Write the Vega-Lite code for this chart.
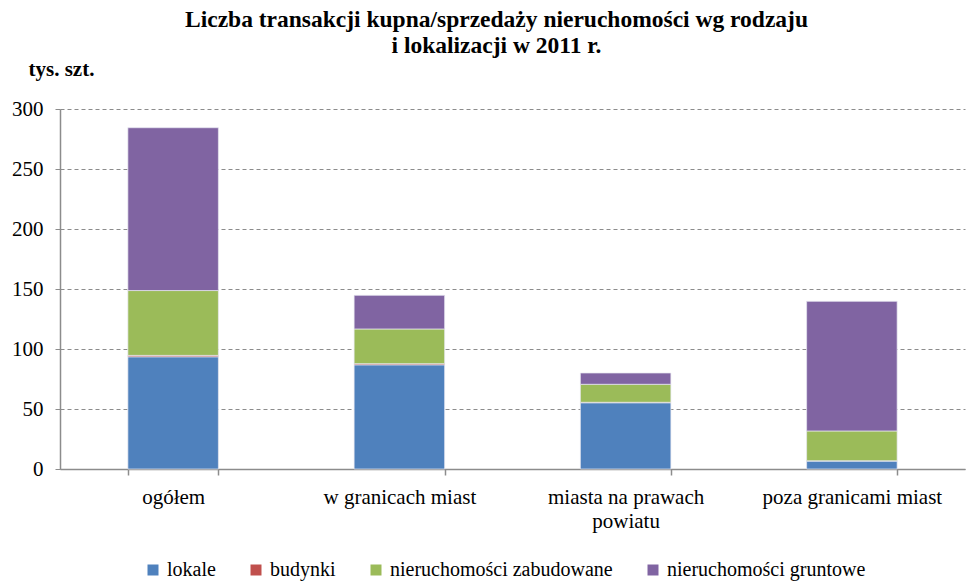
{
  "$schema": "https://vega.github.io/schema/vega-lite/v6.json",
  "width": 905,
  "height": 360,
  "autosize": "none",
  "padding": {"left": 60, "top": 109, "right": 3, "bottom": 116},
  "background": "white",
  "title": {
    "text": ["Liczba transakcji kupna/sprzedaży nieruchomości wg rodzaju", "i lokalizacji w 2011 r."],
    "font": "Liberation Serif",
    "fontSize": 23.5,
    "fontWeight": "bold",
    "color": "black",
    "anchor": "middle",
    "dx": -16,
    "lineHeight": 26,
    "offset": 1
  },
  "data": {
    "values": [
      {"kat": "ogółem", "rodzaj": "lokale", "k": 1, "v": 93.5},
      {"kat": "ogółem", "rodzaj": "budynki", "k": 2, "v": 1.2},
      {"kat": "ogółem", "rodzaj": "nieruchomości zabudowane", "k": 3, "v": 54.0},
      {"kat": "ogółem", "rodzaj": "nieruchomości gruntowe", "k": 4, "v": 135.7},
      {"kat": "w granicach miast", "rodzaj": "lokale", "k": 1, "v": 86.8},
      {"kat": "w granicach miast", "rodzaj": "budynki", "k": 2, "v": 1.0},
      {"kat": "w granicach miast", "rodzaj": "nieruchomości zabudowane", "k": 3, "v": 28.9},
      {"kat": "w granicach miast", "rodzaj": "nieruchomości gruntowe", "k": 4, "v": 28.0},
      {"kat": "miasta na prawach powiatu", "rodzaj": "lokale", "k": 1, "v": 55.2},
      {"kat": "miasta na prawach powiatu", "rodzaj": "budynki", "k": 2, "v": 0.4},
      {"kat": "miasta na prawach powiatu", "rodzaj": "nieruchomości zabudowane", "k": 3, "v": 15.0},
      {"kat": "miasta na prawach powiatu", "rodzaj": "nieruchomości gruntowe", "k": 4, "v": 9.4},
      {"kat": "poza granicami miast", "rodzaj": "lokale", "k": 1, "v": 6.6},
      {"kat": "poza granicami miast", "rodzaj": "budynki", "k": 2, "v": 0.3},
      {"kat": "poza granicami miast", "rodzaj": "nieruchomości zabudowane", "k": 3, "v": 24.8},
      {"kat": "poza granicami miast", "rodzaj": "nieruchomości gruntowe", "k": 4, "v": 108.0}
    ]
  },
  "mark": {"type": "bar", "stroke": "#e8e8f0", "strokeWidth": 0.7},
  "encoding": {
    "x": {
      "field": "kat",
      "type": "nominal",
      "sort": ["ogółem", "w granicach miast", "miasta na prawach powiatu", "poza granicami miast"],
      "scale": {"paddingInner": 0.6, "paddingOuter": 0.3},
      "axis": {
        "title": null,
        "labelAngle": 0,
        "labelFont": "Liberation Serif",
        "labelFontSize": 21,
        "labelColor": "black",
        "labelPadding": 11,
        "labelLineHeight": 24,
        "labelExpr": "datum.label == 'miasta na prawach powiatu' ? ['miasta na prawach', 'powiatu'] : datum.label",
        "domainColor": "#8c8c8c",
        "domainWidth": 1.5,
        "tickBand": "extent",
        "tickColor": "#8c8c8c",
        "tickWidth": 1.5,
        "tickSize": 6,
        "grid": false
      }
    },
    "y": {
      "field": "v",
      "type": "quantitative",
      "stack": "zero",
      "scale": {"domain": [0, 300], "nice": false},
      "axis": {
        "title": "tys. szt.",
        "titleAngle": 0,
        "titleAlign": "left",
        "titleBaseline": "alphabetic",
        "titleX": -32,
        "titleY": -34,
        "titleFont": "Liberation Serif",
        "titleFontSize": 21,
        "titleFontWeight": "bold",
        "titleColor": "black",
        "values": [0, 50, 100, 150, 200, 250, 300],
        "labelFont": "Liberation Serif",
        "labelFontSize": 21,
        "labelColor": "black",
        "labelPadding": 12,
        "domainColor": "#8c8c8c",
        "domainWidth": 1.5,
        "tickColor": "#8c8c8c",
        "tickSize": 5,
        "grid": true,
        "gridColor": "#8c8c8c",
        "gridDash": [4, 3],
        "gridWidth": 1
      }
    },
    "color": {
      "field": "rodzaj",
      "type": "nominal",
      "scale": {
        "domain": ["lokale", "budynki", "nieruchomości zabudowane", "nieruchomości gruntowe"],
        "range": ["#4F81BD", "#C0504D", "#9BBB59", "#8064A2"]
      },
      "legend": {
        "title": null,
        "orient": "none",
        "legendX": 83,
        "legendY": 451,
        "direction": "horizontal",
        "symbolType": "square",
        "symbolSize": 121,
        "symbolStrokeWidth": 0,
        "labelFont": "Liberation Serif",
        "labelFontSize": 20,
        "labelColor": "black",
        "labelOffset": 4,
        "columnPadding": 30,
        "labelLimit": 400
      }
    },
    "order": {"field": "k", "type": "quantitative"}
  },
  "config": {
    "font": "Liberation Serif",
    "view": {"stroke": null}
  }
}
